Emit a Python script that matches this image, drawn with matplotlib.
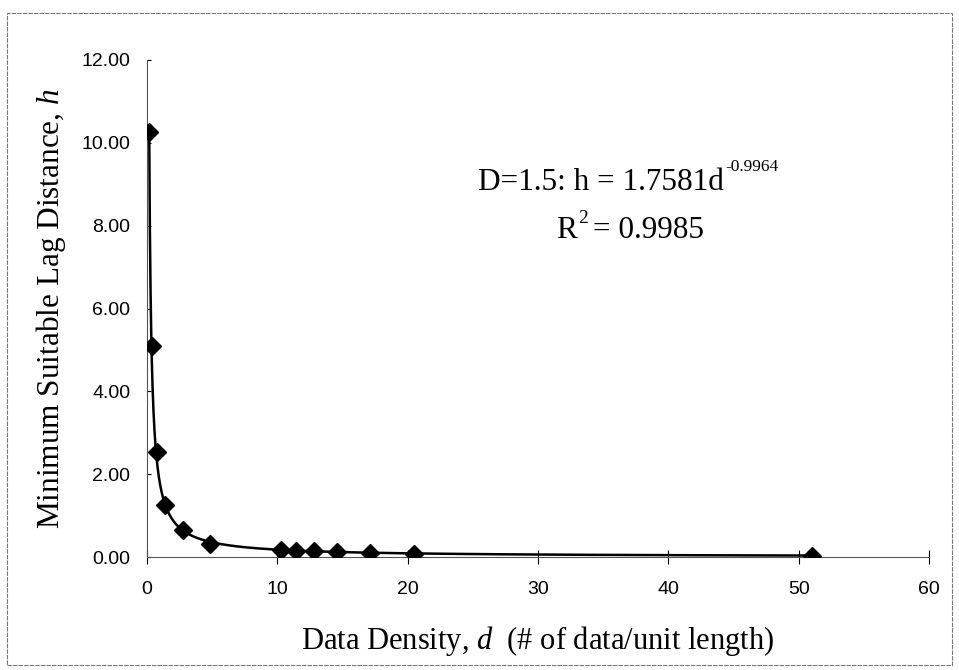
import numpy as np
import matplotlib.pyplot as plt
from matplotlib.patches import Rectangle

plt.rcParams['mathtext.fontset'] = 'custom'
plt.rcParams['mathtext.it'] = 'Liberation Serif:italic'
plt.rcParams['mathtext.rm'] = 'Liberation Serif'

# data
density = [0.17, 0.41, 0.79, 1.38, 2.79, 4.83, 10.3, 11.4, 12.8, 14.6, 17.1, 20.5, 51.0]
lag_dist = [10.27, 5.10, 2.54, 1.26, 0.65, 0.31, 0.17, 0.15, 0.14, 0.12, 0.10, 0.08, 0.03]

# power trendline from the annotation
coef_a = 1.7581
coef_b = -0.9964

x_ticks = [0, 10, 20, 30, 40, 50, 60]
y_ticks = [0, 2, 4, 6, 8, 10, 12]

fig = plt.figure(figsize=(9.59, 6.70), dpi=100)
ax = fig.add_axes([147 / 959, 1 - 557 / 670, (929 - 147) / 959, (557 - 60) / 670])

# chart area border
fig.patches.append(Rectangle((7 / 959, 5 / 670), 945 / 959, 652 / 670,
                             transform=fig.transFigure, fill=False,
                             edgecolor='#777777', linewidth=0.8, linestyle=(0, (4, 1))))

xs = np.linspace(min(density), max(density), 2000)
ax.plot(xs, coef_a * xs ** coef_b, color='black', linewidth=1.8, zorder=2)
ax.plot(density, lag_dist, linestyle='none', marker='D', markersize=9,
        color='black', zorder=3)

ax.set_xlim(0, 60)
ax.set_ylim(0, 12)
ax.set_xticks(x_ticks)
ax.set_yticks(y_ticks)
ax.set_xticklabels([str(v) for v in x_ticks])
ax.set_yticklabels(['%.2f' % v for v in y_ticks])

for side in ['top', 'right']:
    ax.spines[side].set_visible(False)
for side in ['left', 'bottom']:
    ax.spines[side].set_linewidth(0.8)
    ax.spines[side].set_linestyle((0, (2, 1)))
    ax.spines[side].set_color('#555555')

ax.tick_params(axis='x', direction='inout', length=10, width=0.8, pad=12,
               labelsize=14, colors='black')
ax.tick_params(axis='y', direction='in', length=3, width=0.8, pad=12,
               labelsize=14, colors='black')
for lbl in ax.get_xticklabels() + ax.get_yticklabels():
    lbl.set_fontfamily('Liberation Sans')

serif = 'Liberation Serif'
ax.set_xlabel(r'Data Density, $\mathit{d}$  (# of data/unit length)',
              fontfamily=serif, fontsize=22, labelpad=19)
ax.set_ylabel(r'Minimum Suitable Lag Distance, $\mathit{h}$',
              fontfamily=serif, fontsize=22.5)
ax.yaxis.set_label_coords(-0.101, 0.5)

# trendline equation
eq = 22.5
t1 = ax.text(25.4, 8.86, 'D=1.5: h = 1.7581d', fontsize=eq, fontfamily=serif,
             ha='left', va='baseline')
ax.annotate('-0.9964', xy=(1, 9.32), xycoords=(t1, 'data'), xytext=(1, 0),
            textcoords='offset points', fontsize=12.5, fontfamily=serif,
            ha='left', va='baseline')
t2 = ax.text(31.4, 7.70, 'R', fontsize=eq, fontfamily=serif, ha='left', va='baseline')
t3 = ax.annotate('2', xy=(1, 8.06), xycoords=(t2, 'data'), xytext=(1, 0),
                 textcoords='offset points', fontsize=14, fontfamily=serif,
                 ha='left', va='baseline')
ax.annotate('= 0.9985', xy=(1, 7.70), xycoords=(t3, 'data'), xytext=(3, 0),
            textcoords='offset points', fontsize=eq, fontfamily=serif,
            ha='left', va='baseline')

fig.savefig('out.png', dpi=100)
